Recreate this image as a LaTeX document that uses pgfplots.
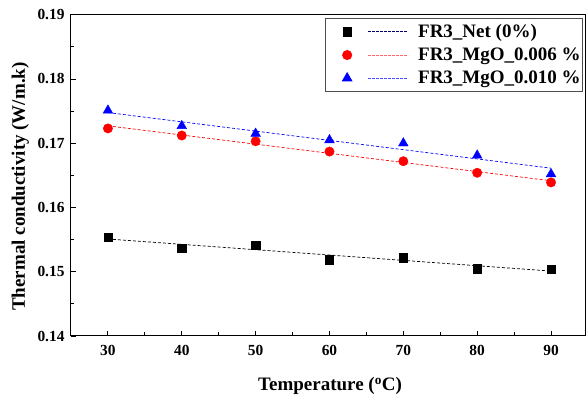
\documentclass[border=0pt]{standalone}
\usepackage{fontspec}
\setmainfont{Liberation Serif}
\usepackage{pgfplots}
\usepackage{pgfplotstable}
\pgfplotsset{compat=1.18}

% Thermal conductivity (W/m.k) of FR3 oil and MgO nanofluids
\pgfplotstableread{
T   net     mgoa    mgob
30  0.1554  0.1723  0.1751
40  0.1537  0.1712  0.1727
50  0.1541  0.1703  0.1715
60  0.1519  0.1687  0.1705
70  0.1522  0.1672  0.1700
80  0.1505  0.1654  0.1681
90  0.1504  0.1639  0.1652
}\kdata

\pgfplotsset{
  fitline/.style={line width=0.7pt, dash pattern=on 3pt off 2pt},
  legfit/.style={legend image code/.code={%
      \path[draw=none, fill=none] (-21pt,0pt) -- (70pt,0pt);
      \draw[line width=0.7pt, solid, dash pattern=on 2.5pt off 1.5pt, #1] (21pt,0pt) -- (60pt,0pt);
      \draw[##1] plot coordinates {(0pt,0pt)};}},
}

\begin{document}
\begin{tikzpicture}
\begin{axis}[
  scale only axis,
  width=514pt, height=321.3pt,
  xmin=25, xmax=94.6, ymin=0.14, ymax=0.19,
  xtick={30,40,50,60,70,80,90},
  ytick={0.14,0.15,0.16,0.17,0.18,0.19},
  minor x tick num=1, minor y tick num=1,
  tick pos=left, tick align=inside,
  major tick length=5pt, minor tick length=3.5pt,
  axis line style={line width=1pt},
  every tick/.style={line width=0.9pt, black},
  /pgf/number format/assume math mode=true,
  ticklabel style={font=\bfseries\fontsize{15.4}{15.4}\selectfont},
  xticklabel style={yshift=-6pt},
  yticklabel style={xshift=-3pt,
    /pgf/number format/fixed, /pgf/number format/fixed zerofill,
    /pgf/number format/precision=2},
  xlabel={Temperature (\textsuperscript{o}C)},
  ylabel={Thermal conductivity (W/m.k)},
  label style={font=\bfseries\fontsize{19}{19}\selectfont},
  xlabel style={at={(axis description cs:0.504,0)}, anchor=base, yshift=-55pt},
  ylabel style={at={(axis description cs:0,0.465)}, anchor=base, yshift=46pt},
  legend style={at={(1,1)}, anchor=north east, xshift=-2pt, yshift=-3.3pt,
    draw=black!70, line width=0.6pt,
    font=\bfseries\fontsize{19}{19}\selectfont,
    nodes={inner xsep=1pt},
    inner xsep=1pt, inner ysep=4pt, row sep=5pt},
  legend cell align=left,
]
% linear fits
\addplot[black, fitline, forget plot] table[x=T, y={create col/linear regression={y=net}}] {\kdata};
\addplot[red, fitline, forget plot] table[x=T, y={create col/linear regression={y=mgoa}}] {\kdata};
\addplot[blue, fitline, forget plot] table[x=T, y={create col/linear regression={y=mgob}}] {\kdata};
% measured values
\addplot[only marks, mark=square*, mark size=4.2pt, black, legfit=black!55!blue] table[x=T, y=net] {\kdata};
\addlegendentry{FR3\_Net (0\%)}
\addplot[only marks, mark=*, mark size=4.7pt, red, legfit=red!60] table[x=T, y=mgoa] {\kdata};
\addlegendentry{FR3\_MgO\_0.006 \%}
\addplot[only marks, mark=triangle*, mark size=5.6pt, blue, legfit=blue!70] table[x=T, y=mgob] {\kdata};
\addlegendentry{FR3\_MgO\_0.010 \%}
\coordinate (sw) at (rel axis cs:0,0);
\coordinate (ne) at (rel axis cs:1,1);
\end{axis}
\pgfresetboundingbox
\path ([shift={(-71pt,-62pt)}]sw) rectangle ([shift={(2pt,14.7pt)}]ne);
\end{tikzpicture}
\end{document}
